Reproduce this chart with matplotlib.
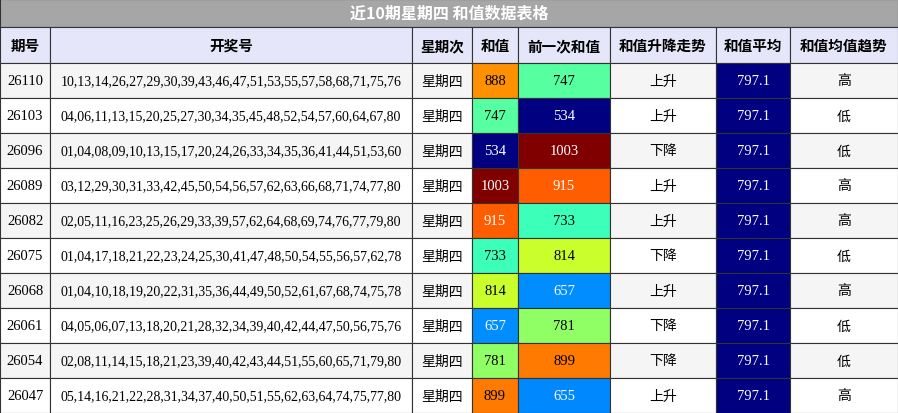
import matplotlib
matplotlib.use("Agg")
import matplotlib.pyplot as plt
from matplotlib.patches import Rectangle
from matplotlib import cm, colors

title = "近10期星期四 和值数据表格"
headers = ["期号", "开奖号", "星期次", "和值", "前一次和值", "和值升降走势", "和值平均", "和值均值趋势"]
periods = ["26110", "26103", "26096", "26089", "26082", "26075", "26068", "26061", "26054", "26047"]
numbers = [
    "10,13,14,26,27,29,30,39,43,46,47,51,53,55,57,58,68,71,75,76",
    "04,06,11,13,15,20,25,27,30,34,35,45,48,52,54,57,60,64,67,80",
    "01,04,08,09,10,13,15,17,20,24,26,33,34,35,36,41,44,51,53,60",
    "03,12,29,30,31,33,42,45,50,54,56,57,62,63,66,68,71,74,77,80",
    "02,05,11,16,23,25,26,29,33,39,57,62,64,68,69,74,76,77,79,80",
    "01,04,17,18,21,22,23,24,25,30,41,47,48,50,54,55,56,57,62,78",
    "01,04,10,18,19,20,22,31,35,36,44,49,50,52,61,67,68,74,75,78",
    "04,05,06,07,13,18,20,21,28,32,34,39,40,42,44,47,50,56,75,76",
    "02,08,11,14,15,18,21,23,39,40,42,43,44,51,55,60,65,71,79,80",
    "05,14,16,21,22,28,31,34,37,40,50,51,55,62,63,64,74,75,77,80",
]
weekday = ["星期四"] * 10
sums = [888, 747, 534, 1003, 915, 733, 814, 657, 781, 899]
prev_sums = [747, 534, 1003, 915, 733, 814, 657, 781, 899, 655]
trend = ["上升", "上升", "下降", "上升", "上升", "下降", "上升", "下降", "下降", "上升"]
avg = [797.1] * 10
avg_trend = ["高", "低", "低", "高", "高", "低", "高", "低", "低", "高"]

W, H = 898, 414
xs = [0, 50, 412, 472, 518, 610, 716, 790, 898]
title_h = 28
head_top, head_bot = 28, 64
row_h = (H - head_bot) / 10

fig = plt.figure(figsize=(W / 100, H / 100), dpi=100)
ax = fig.add_axes([0, 0, 1, 1])
ax.set_xlim(0, W)
ax.set_ylim(H, 0)
ax.axis("off")

cjk = ["Noto Sans CJK SC", "DejaVu Sans"]
serif = ["Liberation Serif", "Noto Sans CJK SC"]
edge = "#333333"

ax.add_patch(Rectangle((0, 0), W, title_h, facecolor="#a6a6a6", edgecolor=edge, lw=0.8))
ax.text(W / 2, title_h / 2, title, ha="center", va="center", color="white",
        fontsize=11.5, fontweight="bold", family=cjk)

for i, h in enumerate(headers):
    ax.add_patch(Rectangle((xs[i], head_top), xs[i + 1] - xs[i], head_bot - head_top,
                           facecolor="#e6e6fa", edgecolor=edge, lw=0.8))
    ax.text((xs[i] + xs[i + 1]) / 2, (head_top + head_bot) / 2, h, ha="center", va="center",
            fontsize=10.5, fontweight="bold", family=cjk)

norm = colors.Normalize(min(sums + prev_sums), max(sums + prev_sums))
cmap = matplotlib.colormaps["jet"]

def txtcol(c):
    lum = 0.299 * c[0] + 0.587 * c[1] + 0.114 * c[2]
    return "black" if lum > 0.56 else "white"

for r in range(10):
    y0 = head_bot + r * row_h
    bg = "#f5f5f5" if r % 2 == 0 else "white"
    cells = [periods[r], numbers[r], weekday[r], str(sums[r]), str(prev_sums[r]),
             trend[r], f"{avg[r]:.1f}", avg_trend[r]]
    for c in range(8):
        fc, tc = bg, "black"
        if c == 3:
            fc = cmap(norm(sums[r])); tc = txtcol(fc)
        elif c == 4:
            fc = cmap(norm(prev_sums[r])); tc = txtcol(fc)
        elif c == 6:
            fc = "#000080"; tc = "white"
        ax.add_patch(Rectangle((xs[c], y0), xs[c + 1] - xs[c], row_h, facecolor=fc,
                               edgecolor=edge, lw=0.8))
        fam = cjk if c in (2, 5, 7) else serif
        fs = 10 if c in (2, 5, 7) else 10.5
        if c == 1:
            fs = 10
        ax.text((xs[c] + xs[c + 1]) / 2, y0 + row_h / 2, cells[c], ha="center", va="center",
                color=tc, fontsize=fs, family=fam)

fig.savefig("out.png", dpi=100)
